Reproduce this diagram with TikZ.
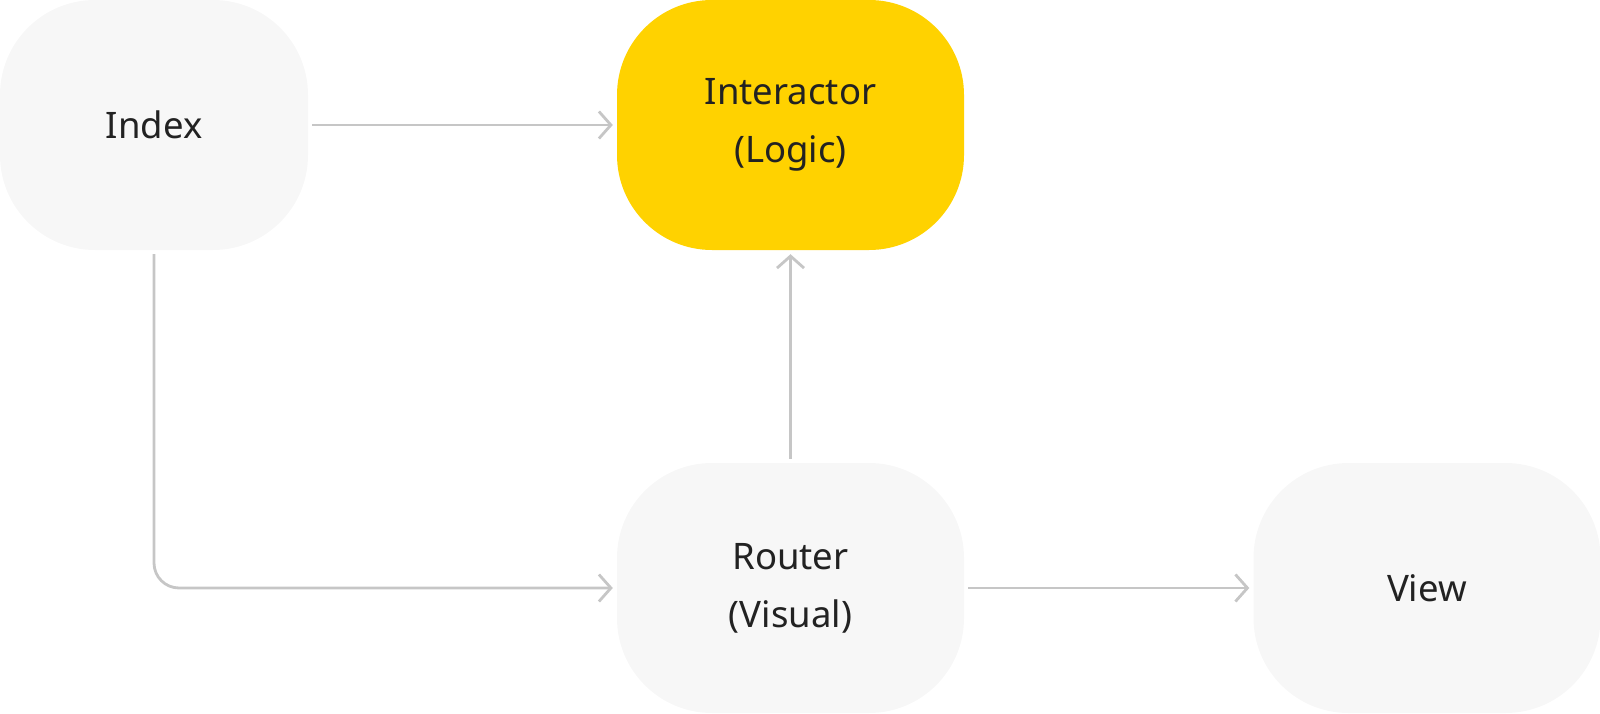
\documentclass[tikz,border=0pt]{standalone}
\usepackage{fontspec}
\setmainfont{Noto Sans}
\usetikzlibrary{arrows.meta}
\definecolor{boxgrey}{HTML}{F7F7F7}
\definecolor{boxyellow}{HTML}{FFD200}
\definecolor{linegrey}{HTML}{C6C6C6}
\definecolor{txt}{HTML}{222222}
\tikzset{
  box/.style={rounded corners=95pt, fill=boxgrey, draw=none, inner sep=0pt,
    minimum width=347pt, minimum height=250pt, align=center, text=txt,
    font=\fontsize{36.5}{58}\selectfont},
  conn/.style={draw=linegrey, line width=2.8pt,
    -{Straight Barb[length=12pt, width=27pt, line width=2.8pt]},
    shorten <=4pt, shorten >=4pt}
}
\begin{document}
\begin{tikzpicture}[x=1pt, y=-1pt]
\useasboundingbox (0,0) rectangle (1600,714);
\node[box, minimum width=308pt] (index) at (154,125) {Index};
\node[box, fill=boxyellow] (inter) at (790.5,125) {Interactor\\(Logic)};
\node[box] (router) at (790.5,588) {Router\\(Visual)};
\node[box] (view) at (1427,588) {View};
\draw[conn] (index.east) -- (inter.west);
\draw[conn, rounded corners=25pt] (index.south) |- (router.west);
\draw[conn] (router.north) -- (inter.south);
\draw[conn] (router.east) -- (view.west);
\end{tikzpicture}
\end{document}
